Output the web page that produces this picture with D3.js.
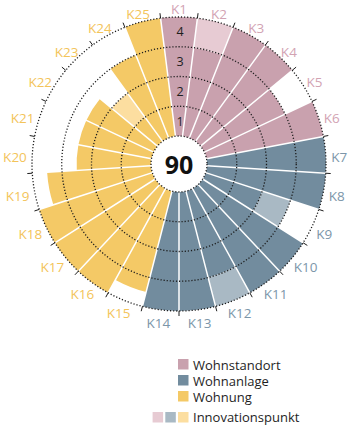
<!DOCTYPE html>
<html>
<head>
<meta charset="utf-8">
<script src="https://cdn.jsdelivr.net/npm/d3@7"></script>
<style>
  html, body { margin: 0; padding: 0; background: #fff; }
  svg { display: block; }
  text { font-family: "Open Sans", "Noto Sans", sans-serif; }
</style>
</head>
<body>
<svg id="chart" width="350" height="425"></svg>
<script>
// ---- data ----
const categories = ["K1","K2","K3","K4","K5","K6","K7","K8","K9","K10","K11","K12","K13",
  "K14","K15","K16","K17","K18","K19","K20","K21","K22","K23","K24","K25"];
const groupOf = ["Wohnstandort","Wohnstandort","Wohnstandort","Wohnstandort","Wohnstandort","Wohnstandort",
  "Wohnanlage","Wohnanlage","Wohnanlage","Wohnanlage","Wohnanlage","Wohnanlage","Wohnanlage","Wohnanlage",
  "Wohnung","Wohnung","Wohnung","Wohnung","Wohnung","Wohnung","Wohnung","Wohnung","Wohnung","Wohnung","Wohnung"];
const basePoints = [4,3,4,4,3,4, 4,4,2,4,4,3,4,4, 3.5,4,4,4,3.5,2.5,2.5,2.5,1,3,4];
const innovationPoints = [0,1,0,0,0,0, 0,0,1,0,0,1,0,0, 0,0,0,0,0,0,0,0,1,0,0];
const groups = ["Wohnstandort","Wohnanlage","Wohnung"];
const scaleTicks = [1,2,3,4];
const totalLabel = "90";
const innovationLabel = "Innovationspunkt";

// ---- styles ----
const colorMain = {Wohnstandort:"#c9a1ae", Wohnanlage:"#728c9e", Wohnung:"#f4c966"};
const colorLight = {Wohnstandort:"#e7cbd3", Wohnanlage:"#a9b9c4", Wohnung:"#fcdea0"};
const colorText = {Wohnstandort:"#d2a3b3", Wohnanlage:"#7c96a9", Wohnung:"#f3c45a"};

const svg = d3.select("#chart");
const cx = 179, cy = 164, r0 = 28, band = 29.75;
const r = d3.scaleLinear().domain([0, 4]).range([r0, r0 + 4 * band]);
const step = 2 * Math.PI / categories.length;
const angle = d3.scaleBand().domain(categories).range([-step / 2, 2 * Math.PI - step / 2]).padding(0);

const g = svg.append("g").attr("transform", `translate(${cx},${cy})`);

const rows = categories.map((c, i) => ({
  cat: c, group: groupOf[i], base: basePoints[i], inno: innovationPoints[i],
  a0: angle(c), a1: angle(c) + angle.bandwidth()
}));

const arc = d3.arc().padAngle(0.013).padRadius(115);

// base bars
g.selectAll("path.base").data(rows).join("path")
  .attr("class", "base")
  .attr("fill", d => colorMain[d.group])
  .attr("d", d => arc({innerRadius: r(0), outerRadius: r(d.base), startAngle: d.a0, endAngle: d.a1}));

// innovation segments
g.selectAll("path.inno").data(rows.filter(d => d.inno > 0)).join("path")
  .attr("class", "inno")
  .attr("fill", d => colorLight[d.group])
  .attr("d", d => arc({innerRadius: r(d.base), outerRadius: r(d.base + d.inno), startAngle: d.a0, endAngle: d.a1}));

// inner white disc
g.append("circle").attr("r", r(0)).attr("fill", "#fff");

// dotted circles
const dotted = [0].concat(scaleTicks);
g.selectAll("circle.grid").data(dotted).join("circle")
  .attr("class", "grid")
  .attr("r", d => r(d))
  .attr("fill", "none")
  .attr("stroke", "#1c1c1c")
  .attr("stroke-width", 1.3)
  .attr("stroke-dasharray", "1.2 1.9");

// ticks at category boundaries on outer circle
g.selectAll("line.tick").data(rows).join("line")
  .attr("class", "tick")
  .attr("x1", d => Math.sin(d.a0) * r(4))
  .attr("y1", d => -Math.cos(d.a0) * r(4))
  .attr("x2", d => Math.sin(d.a0) * (r(4) + 5))
  .attr("y2", d => -Math.cos(d.a0) * (r(4) + 5))
  .attr("stroke", "#1c1c1c")
  .attr("stroke-width", 1);

// scale numbers
g.selectAll("text.scale").data(scaleTicks).join("text")
  .attr("class", "scale")
  .attr("x", 1)
  .attr("y", d => -r(d - 0.5))
  .attr("text-anchor", "middle")
  .attr("dominant-baseline", "central")
  .attr("font-size", 12.5)
  .attr("fill", "#1e1e1e")
  .text(d => d);

// center total
g.append("text")
  .attr("x", 0).attr("y", 0)
  .attr("text-anchor", "middle")
  .attr("dominant-baseline", "central")
  .attr("font-size", 25)
  .attr("font-weight", 700)
  .attr("fill", "#111")
  .text(totalLabel);

// category labels
const labelR = 152.5, labelH = 10;
g.selectAll("text.cat").data(rows).join("text")
  .attr("class", "cat")
  .attr("text-anchor", "middle")
  .attr("dominant-baseline", "central")
  .attr("font-size", 13.5)
  .attr("fill", d => colorText[d.group])
  .text(d => d.cat)
  .each(function(d) {
    const w = this.getComputedTextLength();
    const a = (d.a0 + d.a1) / 2;
    const s = Math.sin(a), c = Math.cos(a);
    d3.select(this)
      .attr("x", s * labelR + s * w / 2)
      .attr("y", -c * labelR - c * labelH / 2 + 2.5);
  });

// legend
const legX = 178, sq = 10.5;
const legY = [359, 375, 391];
const leg = svg.append("g");
groups.forEach((gname, i) => {
  leg.append("rect").attr("x", legX).attr("y", legY[i]).attr("width", sq).attr("height", sq)
    .attr("fill", colorMain[gname]);
  leg.append("text").attr("x", legX + 15).attr("y", legY[i] + sq / 2 + 0.5)
    .attr("dominant-baseline", "central").attr("font-size", 13).attr("fill", "#1e1e1e")
    .text(gname);
});
const innoY = 412;
groups.forEach((gname, i) => {
  leg.append("rect").attr("x", legX - (2 - i) * 12.7).attr("y", innoY).attr("width", sq).attr("height", sq)
    .attr("fill", colorLight[gname]);
});
leg.append("text").attr("x", legX + 15).attr("y", innoY + sq / 2)
  .attr("dominant-baseline", "central").attr("font-size", 13).attr("fill", "#1e1e1e")
  .text(innovationLabel);
</script>
</body>
</html>
